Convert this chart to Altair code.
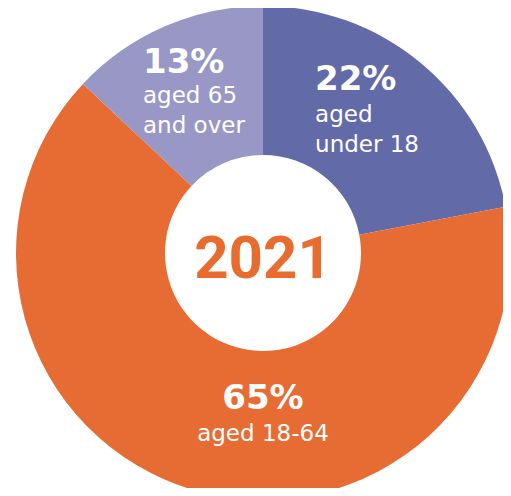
import altair as alt
import pandas as pd

categories = ["aged under 18", "aged 18-64", "aged 65 and over"]
values = [22, 65, 13]
pct_labels = ["22%", "65%", "13%"]
desc_labels = ["aged\nunder 18", "aged 18-64", "aged 65\nand over"]
order = [1, 2, 3]
colors = ["#636AA8", "#E76C33", "#9997C6"]
year = ["2021"]

df = pd.DataFrame({
    "category": categories,
    "value": values,
    "pct": pct_labels,
    "desc": desc_labels,
    "order": order,
})

base = alt.Chart(df)

arcs = base.mark_arc(radius=247, innerRadius=98).encode(
    theta=alt.Theta("value:Q", stack=True),
    color=alt.Color("category:N", scale=alt.Scale(domain=categories, range=colors), legend=None),
    order=alt.Order("order:Q"),
)

LABEL_FONT = "DejaVu Sans"


def label_layer(cat, field, size, bold, align, dx, dy):
    return base.transform_window(
        cum="sum(value)", sort=[alt.SortField("order")], frame=[None, 0]
    ).transform_calculate(
        mid="datum.cum - datum.value / 2"
    ).transform_filter(
        alt.datum.category == cat
    ).mark_text(
        radius=175, align=align, baseline="alphabetic", dx=dx, dy=dy,
        font=LABEL_FONT, fontSize=size, fontWeight="bold" if bold else "normal",
        color="white", lineBreak="\n", lineHeight=30,
    ).encode(
        theta=alt.Theta("mid:Q", stack=None),
        text=alt.Text(f"{field}:N"),
    )


layers = [
    arcs,
    label_layer("aged under 18", "pct", 34, True, "left", -59.5, -28),
    label_layer("aged under 18", "desc", 23, False, "left", -59.5, 4),
    label_layer("aged 65 and over", "pct", 34, True, "left", -50.5, -19.4),
    label_layer("aged 65 and over", "desc", 23, False, "left", -50.5, 10.6),
    label_layer("aged 18-64", "pct", 34, True, "center", 48.8, -12),
    label_layer("aged 18-64", "desc", 23, False, "center", 48.8, 20),
]

year_text = alt.Chart(pd.DataFrame({"year": year})).mark_text(
    align="center", baseline="alphabetic", dy=25,
    font="Roboto", fontSize=60, fontWeight="bold", color="#E86C2E",
).encode(text="year:N")

chart = alt.layer(*layers, year_text).properties(
    width=480, height=470,
    autosize=alt.AutoSizeParams(type="none"),
    padding={"left": 15, "top": 10, "right": 0, "bottom": 0},
).configure_view(stroke=None)

chart.save("out.html", embed_options={"renderer": "svg", "actions": False})
